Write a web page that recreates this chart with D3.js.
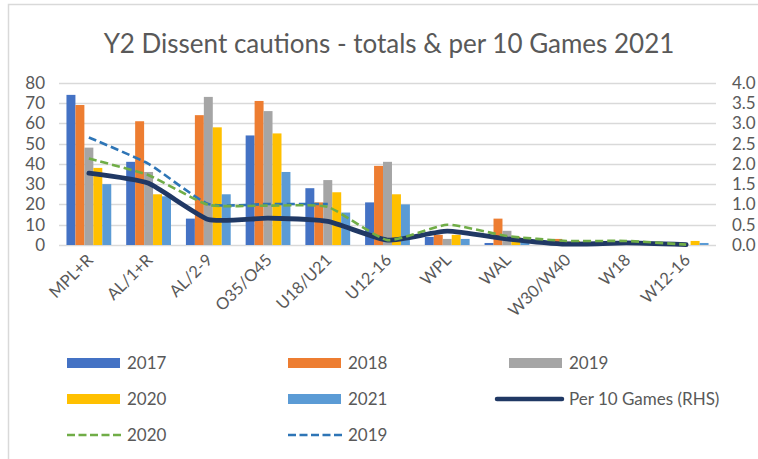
<!DOCTYPE html>
<html><head><meta charset="utf-8">
<script src="https://cdn.jsdelivr.net/npm/d3@7"></script>
<style>body{margin:0;background:#fff}svg{display:block}</style>
</head><body>
<svg id="c" width="758" height="459"></svg>
<script>
const categories = ["MPL+R","AL/1+R","AL/2-9","O35/O45","U18/U21","U12-16","WPL","WAL","W30/W40","W18","W12-16"];
const seriesNames = ["2017","2018","2019","2020","2021"];
const v2017 = [74,41,13,54,28,21,4,1,1,1,0];
const v2018 = [69,61,64,71,21,39,5,13,3,1,0];
const v2019 = [48,36,73,66,32,41,3,7,2,1,0];
const v2020 = [38,25,58,55,26,25,5,4,2,1,2];
const v2021 = [30,24,25,36,16,20,3,2,1,0,1];
const per10Games = [1.77,1.52,0.63,0.66,0.58,0.12,0.34,0.15,0.02,0.05,0.01];
const rate2020 = [2.13,1.72,0.99,0.97,0.94,0.12,0.50,0.22,0.10,0.10,0.01];
const rate2019 = [2.65,2.0,1.01,1.01,1.01,null,null,null,null,null,null];
const leftTicks = [0,10,20,30,40,50,60,70,80];
const rightTicks = [0,0.5,1,1.5,2,2.5,3,3.5,4];
const title = "Y2 Dissent cautions - totals & per 10 Games 2021";

const barValues = [v2017,v2018,v2019,v2020,v2021];
const barColors = ["#4472C4","#ED7D31","#A5A5A5","#FFC000","#5B9BD5"];
const txt = "#595959", grid = "#d9d9d9";
const font = "Lato, 'Open Sans', sans-serif";

const svg = d3.select("#c");
svg.append("rect").attr("x",8.5).attr("y",4.5).attr("width",800).attr("height",500)
  .attr("fill","#fff").attr("stroke",grid).attr("stroke-width",1.5);

const L = 59, R = 716, T = 82.7, B = 245;
const x = d3.scaleBand().domain(categories).range([L,R]).paddingInner(0.25).paddingOuter(0.125);
const step = (R-L)/categories.length;
const xc = d => L + step*categories.indexOf(d) + step/2;
const xs = d3.scaleBand().domain(seriesNames).range([0,x.bandwidth()]);
const yL = d3.scaleLinear().domain([0,80]).range([B,T]);
const yR = d3.scaleLinear().domain([0,4]).range([B,T]);

svg.append("text").attr("x",389).attr("y",53).attr("text-anchor","middle")
  .attr("font-family",font).attr("font-size",26).attr("fill",txt).text(title);

// gridlines
svg.append("g").selectAll("line").data(leftTicks).join("line")
  .attr("x1",L).attr("x2",R).attr("y1",d=>Math.round(yL(d))+0.5).attr("y2",d=>Math.round(yL(d))+0.5)
  .attr("stroke",grid).attr("stroke-width",1.5);

// left axis
const gl = svg.append("g").attr("transform",`translate(${L-14},0)`)
  .call(d3.axisLeft(yL).tickValues(leftTicks).tickSize(0).tickPadding(0));
gl.select(".domain").remove();
gl.selectAll("text").attr("font-family",font).attr("font-size",17).attr("fill",txt);
// right axis
const gr = svg.append("g").attr("transform",`translate(${R+16},0)`)
  .call(d3.axisRight(yR).tickValues(rightTicks).tickFormat(d3.format(".1f")).tickSize(0).tickPadding(0));
gr.select(".domain").remove();
gr.selectAll("text").attr("font-family",font).attr("font-size",17).attr("fill",txt);

// bars
const bars = svg.append("g");
barValues.forEach((vals,i)=>{
  bars.append("g").selectAll("rect").data(categories).join("rect")
    .attr("x",(d)=>x(d)+xs(seriesNames[i]))
    .attr("width",xs.bandwidth())
    .attr("y",(d,j)=>yL(vals[j]))
    .attr("height",(d,j)=>B-yL(vals[j]))
    .attr("fill",barColors[i]);
});

// category labels
svg.append("g").selectAll("text").data(categories).join("text")
  .attr("transform",d=>`translate(${xc(d)+1},${B+12}) rotate(-45)`)
  .attr("text-anchor","end").attr("dy","0.35em")
  .attr("font-family",font).attr("font-size",16.5).attr("fill",txt).text(d=>d);

// lines
const mk = arr => d3.line().defined(d=>d!=null)
  .x((d,i)=>xc(categories[i])).y(d=>yR(d)).curve(d3.curveCardinal.tension(0.5))(arr);
svg.append("path").attr("d",mk(rate2019)).attr("fill","none").attr("stroke","#2E75B6")
  .attr("stroke-width",2.6).attr("stroke-dasharray","8,4");
svg.append("path").attr("d",mk(per10Games)).attr("fill","none").attr("stroke","#203864")
  .attr("stroke-width",4.8).attr("stroke-linecap","round").attr("stroke-linejoin","round");
svg.append("path").attr("d",mk(rate2020)).attr("fill","none").attr("stroke","#70AD47")
  .attr("stroke-width",2.6).attr("stroke-dasharray","8,4");

// legend
const cols = [67,288,509], rows = [363,399,435];
const leg = [
  {t:"2017",type:"bar",c:barColors[0]},{t:"2018",type:"bar",c:barColors[1]},{t:"2019",type:"bar",c:barColors[2]},
  {t:"2020",type:"bar",c:barColors[3]},{t:"2021",type:"bar",c:barColors[4]},{t:"Per 10 Games (RHS)",type:"line",c:"#203864"},
  {t:"2020",type:"dash",c:"#70AD47"},{t:"2019",type:"dash",c:"#2E75B6"}
];
const lg = svg.append("g");
leg.forEach((e,i)=>{
  const cx = cols[i%3], cy = rows[Math.floor(i/3)];
  if(e.type==="bar"){
    lg.append("rect").attr("x",cx).attr("y",cy-5).attr("width",53).attr("height",10).attr("fill",e.c);
  } else if(e.type==="line"){
    lg.append("line").attr("x1",cx-12).attr("x2",cx+53).attr("y1",cy).attr("y2",cy).attr("stroke",e.c)
      .attr("stroke-width",4.5).attr("stroke-linecap","round");
  } else {
    lg.append("line").attr("x1",cx).attr("x2",cx+54).attr("y1",cy).attr("y2",cy).attr("stroke",e.c)
      .attr("stroke-width",2.6).attr("stroke-dasharray","8,3.5");
  }
  lg.append("text").attr("x",cx+60).attr("y",cy).attr("dy","0.35em")
    .attr("font-family",font).attr("font-size",17).attr("fill",txt).text(e.t);
});
</script>
</body></html>
